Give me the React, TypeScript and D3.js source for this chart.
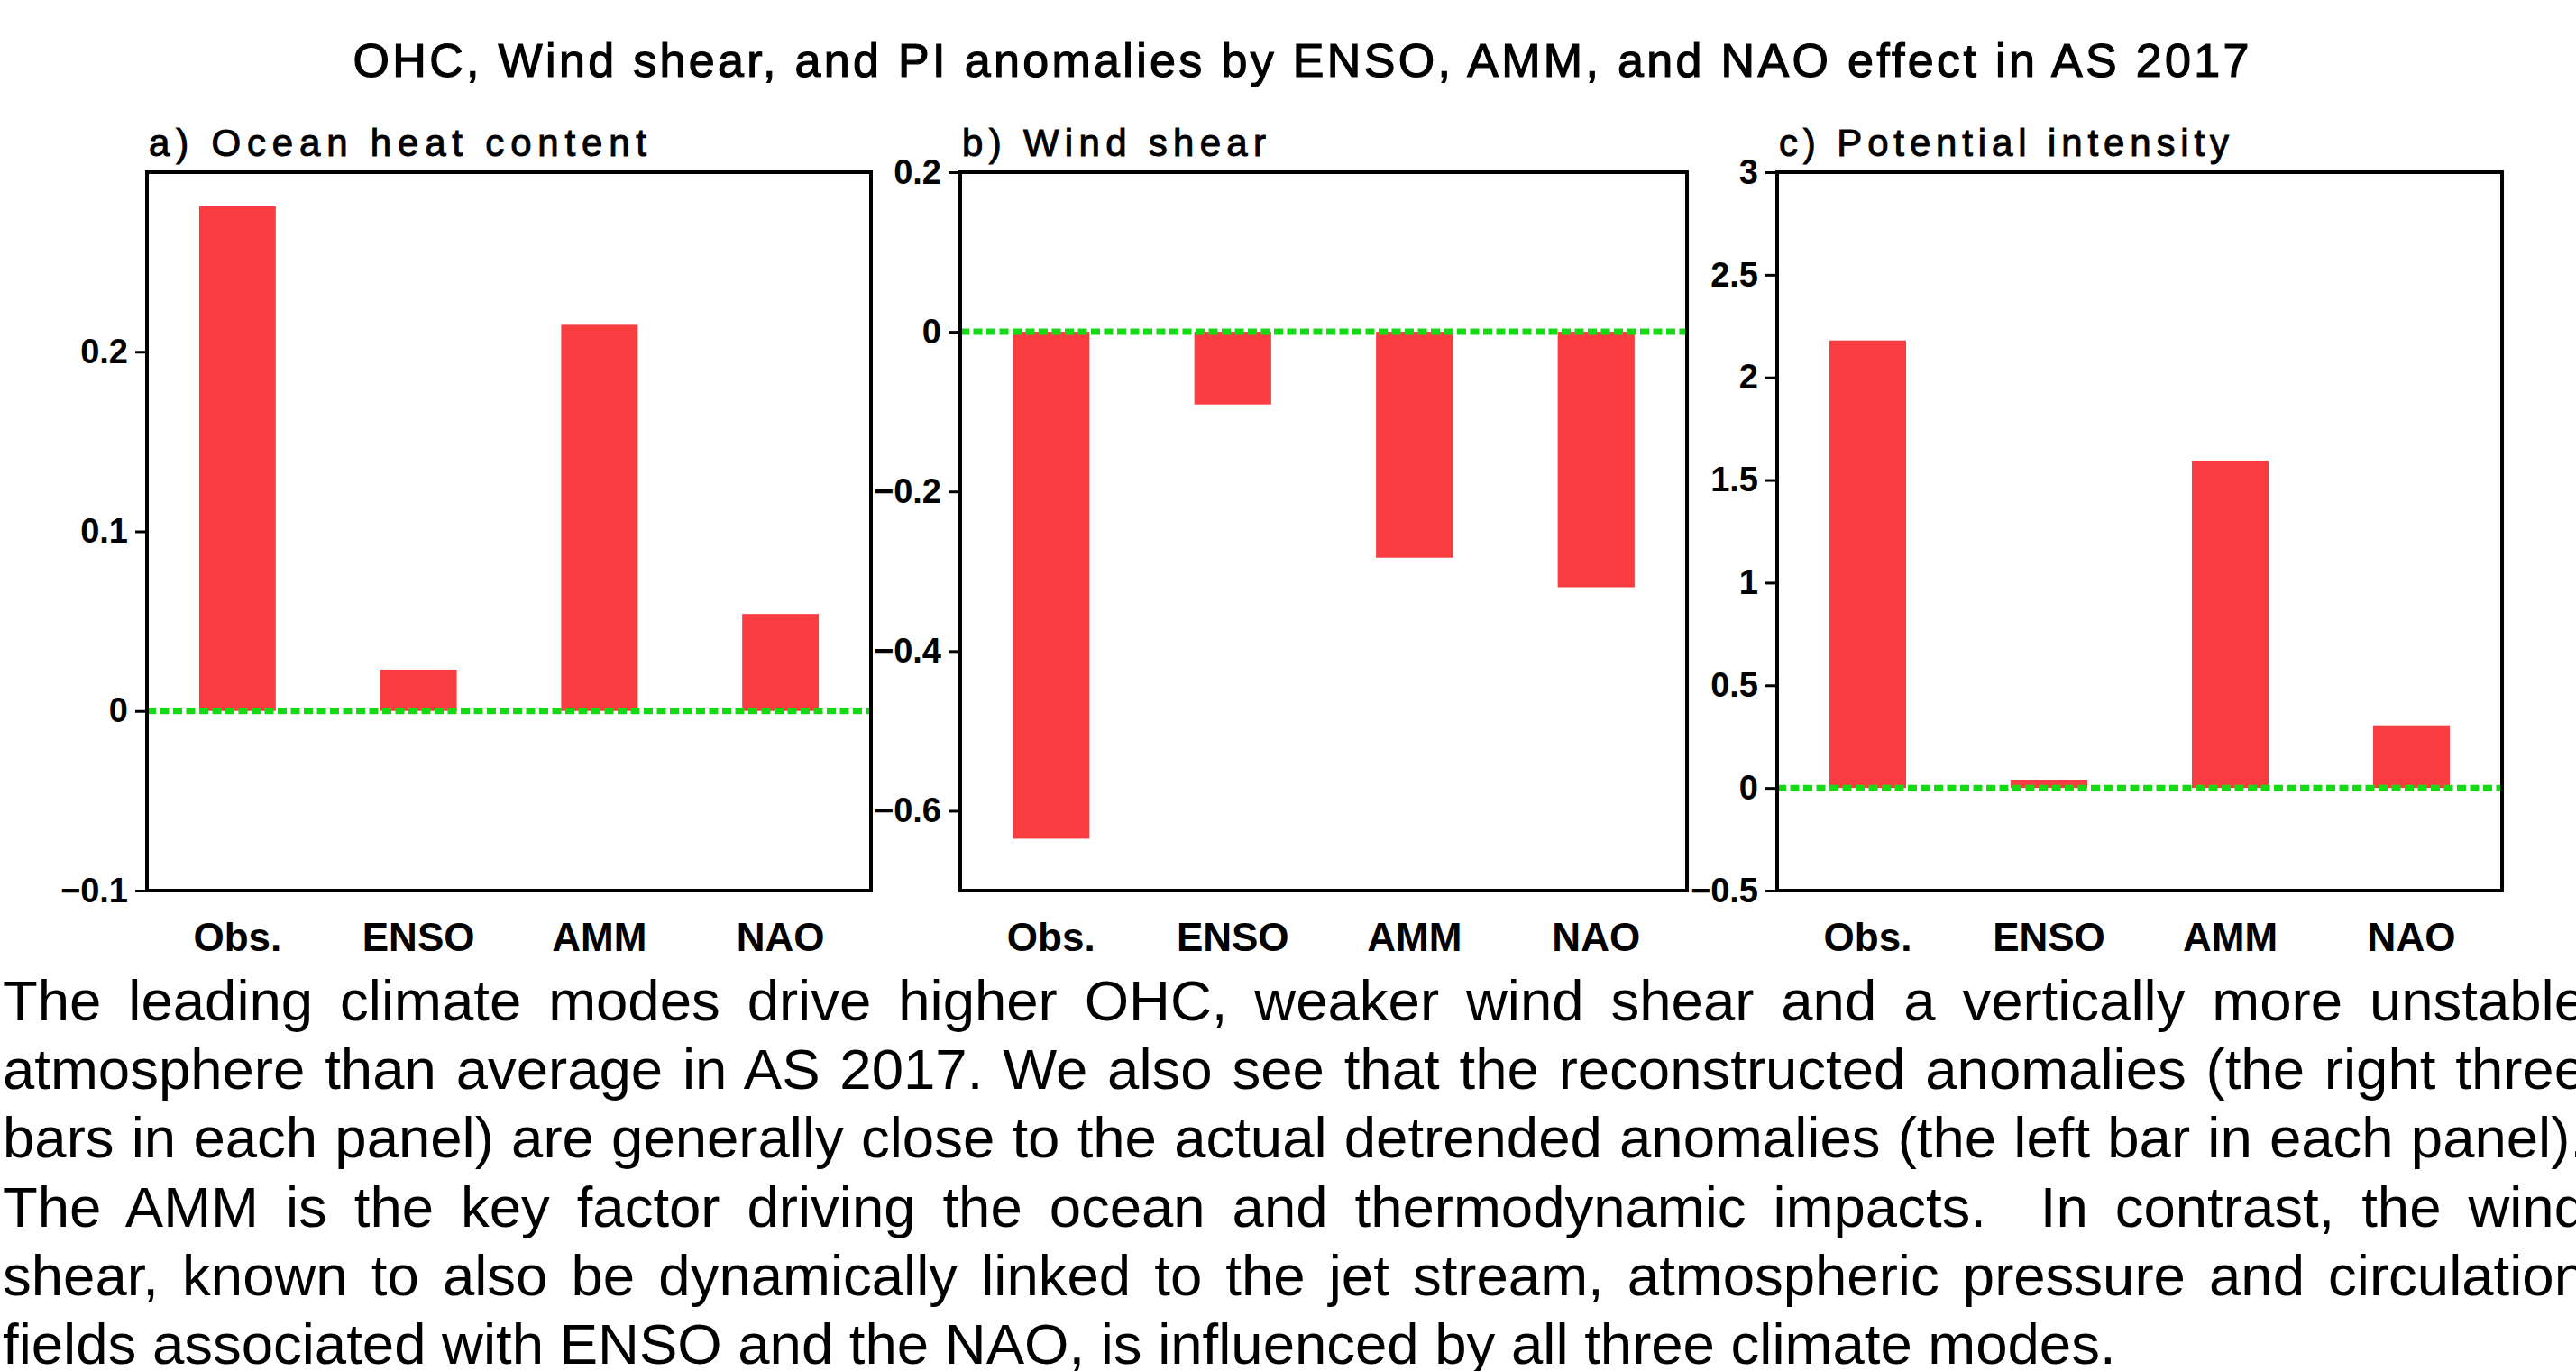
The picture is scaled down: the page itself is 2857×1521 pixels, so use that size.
import React, { useEffect, useRef } from 'react';
import * as d3 from 'd3';

// bar categories, same for all three panels
const categories = ['Obs.', 'ENSO', 'AMM', 'NAO'];

// a) ocean heat content anomalies
const ohcValues = [0.281, 0.023, 0.215, 0.054];
const ohcDomain = [-0.1, 0.3];
const ohcTicks = [-0.1, 0, 0.1, 0.2];

// b) wind shear anomalies
const shearValues = [-0.635, -0.091, -0.283, -0.32];
const shearDomain = [-0.7, 0.2];
const shearTicks = [-0.6, -0.4, -0.2, 0, 0.2];

// c) potential intensity anomalies
const piValues = [2.18, 0.04, 1.595, 0.305];
const piDomain = [-0.5, 3];
const piTicks = [-0.5, 0, 0.5, 1, 1.5, 2, 2.5, 3];

const panelTitles = ['a) Ocean heat content', 'b) Wind shear', 'c) Potential intensity'];
const mainTitle = 'OHC, Wind shear, and PI anomalies by ENSO, AMM, and NAO effect in AS 2017';

const captionLines = [
    'The leading climate modes drive higher OHC, weaker wind shear and a vertically more unstable',
    'atmosphere than average in AS 2017. We also see that the reconstructed anomalies (the right three',
    'bars in each panel) are generally close to the actual detrended anomalies (the left bar in each panel).',
    'The AMM is the key factor driving the ocean and thermodynamic impacts.  In contrast, the wind',
    'shear, known to also be dynamically linked to the jet stream, atmospheric pressure and circulation',
    'fields associated with ENSO and the NAO, is influenced by all three climate modes.',
];

const W = 2857, H = 1521;
const plotTop = 191, plotBottom = 988;
const barColor = '#f93c40';
const zeroColor = '#16d916';
const gradsFont = '"Liberation Sans", Arial, sans-serif';

// horizontal placement of each panel box and its title width
const layout = [
    { left: 163, right: 966, titleWidth: 552 },
    { left: 1065, right: 1871, titleWidth: 337 },
    { left: 1971, right: 2775, titleWidth: 499 },
];

export default function App() {
    const ref = useRef<SVGSVGElement>(null);

    useEffect(() => {
        document.body.style.margin = '0';
        const svg = d3.select(ref.current);
        svg.selectAll('*').remove();

        svg.append('rect').attr('width', W).attr('height', H).attr('fill', '#fff');

        svg.append('text')
            .attr('x', 1443)
            .attr('y', 85)
            .attr('text-anchor', 'middle')
            .attr('font-family', gradsFont)
            .attr('font-size', 52)
            .attr('stroke', '#000')
            .attr('stroke-width', 1.2)
            .attr('textLength', 2103)
            .attr('lengthAdjust', 'spacing')
            .text(mainTitle);

        const panels = [
            { values: ohcValues, domain: ohcDomain, ticks: ohcTicks },
            { values: shearValues, domain: shearDomain, ticks: shearTicks },
            { values: piValues, domain: piDomain, ticks: piTicks },
        ];
        const fmt = d3.format('~g');

        panels.forEach((p, i) => {
            const box = layout[i];
            const g = svg.append('g');

            const x = d3.scaleBand()
                .domain(categories)
                .range([box.left, box.right])
                .paddingInner(0.577)
                .paddingOuter(0.2885);
            const y = d3.scaleLinear()
                .domain(p.domain)
                .range([plotBottom, plotTop]);

            g.selectAll('rect.bar')
                .data(p.values)
                .enter()
                .append('rect')
                .attr('class', 'bar')
                .attr('x', (d, j) => x(categories[j]))
                .attr('width', x.bandwidth())
                .attr('y', d => Math.min(y(d), y(0)))
                .attr('height', d => Math.abs(y(d) - y(0)))
                .attr('fill', barColor);

            // dotted zero line
            g.append('line')
                .attr('x1', box.left)
                .attr('x2', box.right)
                .attr('y1', y(0))
                .attr('y2', y(0))
                .attr('stroke', zeroColor)
                .attr('stroke-width', 7)
                .attr('stroke-dasharray', '10 4.5');

            // frame
            g.append('rect')
                .attr('x', box.left)
                .attr('y', plotTop)
                .attr('width', box.right - box.left)
                .attr('height', plotBottom - plotTop)
                .attr('fill', 'none')
                .attr('stroke', '#000')
                .attr('stroke-width', 4);

            const yAxis = g.append('g')
                .attr('transform', 'translate(' + box.left + ',0)')
                .call(d3.axisLeft(y).tickValues(p.ticks).tickSize(13).tickPadding(8).tickFormat(fmt));
            yAxis.select('.domain').remove();
            yAxis.selectAll('line').attr('stroke', '#000').attr('stroke-width', 3);
            yAxis.selectAll('text')
                .attr('fill', '#000')
                .attr('font-family', gradsFont)
                .attr('font-weight', 'bold')
                .attr('font-size', 38);

            g.selectAll('text.xlab')
                .data(categories)
                .enter()
                .append('text')
                .attr('class', 'xlab')
                .attr('x', d => x(d) + x.bandwidth() / 2)
                .attr('y', 1055)
                .attr('text-anchor', 'middle')
                .attr('font-family', gradsFont)
                .attr('font-weight', 'bold')
                .attr('font-size', 44)
                .text(d => d);

            g.append('text')
                .attr('x', box.left + 2)
                .attr('y', 173)
                .attr('font-family', gradsFont)
                .attr('font-size', 42)
                .attr('stroke', '#000')
                .attr('stroke-width', 1)
                .attr('textLength', box.titleWidth)
                .attr('lengthAdjust', 'spacing')
                .text(panelTitles[i]);
        });

        // justified caption below the panels
        const captionLeft = 3, captionRight = 2868;
        captionLines.forEach((line, i) => {
            const t = svg.append('text')
                .attr('x', captionLeft)
                .attr('y', 1132 + i * 76.2)
                .attr('font-family', '"Liberation Sans", Arial, sans-serif')
                .attr('font-size', 63.5)
                .style('white-space', 'pre')
                .text(line);
            if (i < captionLines.length - 1) {
                const natural = (t.node() as SVGTextElement).getComputedTextLength();
                const spaces = (line.match(/ /g) || []).length;
                t.attr('word-spacing', (captionRight - captionLeft - natural) / spaces);
            }
        });
    }, []);

    return (
        <svg ref={ref} width={W} height={H} style={{ display: 'block' }} />
    );
}
